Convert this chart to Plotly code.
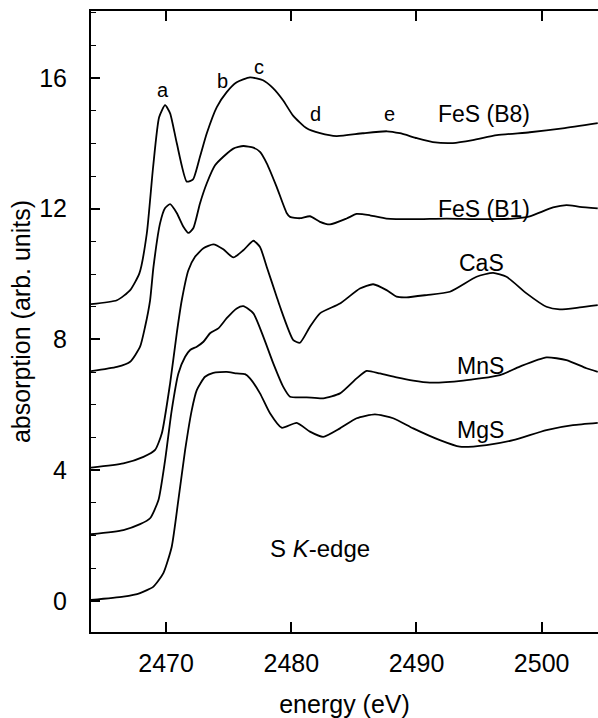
import plotly.graph_objects as go

# ---- data (energy in eV, absorption in arb. units, offset included) ----
fes_b8_e = [2464.0, 2466.07, 2467.13, 2467.87, 2468.46, 2468.96, 2469.44, 2469.92, 2470.32, 2470.85,
            2471.65, 2472.15, 2472.71, 2473.25, 2474.05, 2474.84, 2475.64, 2476.70, 2477.74, 2478.54,
            2479.34, 2480.14, 2481.23, 2482.30, 2483.62, 2485.72, 2487.64, 2488.67, 2490.03, 2491.31,
            2492.91, 2494.50, 2496.42, 2499.05, 2501.68, 2504.48]
fes_b8_a = [9.08, 9.20, 9.51, 10.03, 11.25, 13.27, 14.80, 15.17, 14.92, 14.01,
            12.83, 12.90, 13.60, 14.31, 15.11, 15.57, 15.87, 16.02, 15.93, 15.69,
            15.32, 14.85, 14.46, 14.31, 14.22, 14.31, 14.37, 14.31, 14.16, 14.04,
            14.01, 14.10, 14.25, 14.34, 14.46, 14.62]

fes_b1_e = [2464.0, 2466.07, 2467.13, 2467.92, 2468.32, 2468.72, 2468.99, 2469.52, 2469.92, 2470.32,
            2470.85, 2471.38, 2471.78, 2472.18, 2472.71, 2473.25, 2473.91, 2474.57, 2475.37, 2476.17,
            2476.97, 2477.50, 2478.04, 2478.83, 2479.63, 2479.90, 2480.69, 2481.49, 2482.29, 2483.09,
            2484.42, 2485.22, 2486.28, 2487.61, 2489.74, 2492.40, 2495.06, 2497.72, 2499.05, 2500.91,
            2501.98, 2503.04, 2504.48]
fes_b1_a = [7.03, 7.16, 7.32, 7.78, 8.39, 9.20, 10.22, 11.56, 12.02, 12.14,
            11.87, 11.45, 11.26, 11.41, 12.17, 12.78, 13.33, 13.59, 13.84, 13.92,
            13.87, 13.74, 13.39, 12.67, 11.87, 11.75, 11.71, 11.77, 11.60, 11.52,
            11.70, 11.84, 11.80, 11.70, 11.68, 11.70, 11.68, 11.70, 11.77, 12.04,
            12.11, 12.06, 12.01]

cas_e = [2464.0, 2466.59, 2468.19, 2469.12, 2469.66, 2470.32, 2470.85, 2471.25, 2471.78, 2472.31,
         2472.98, 2473.77, 2474.57, 2475.37, 2476.17, 2476.97, 2477.50, 2478.04, 2478.83, 2479.10,
         2480.16, 2480.69, 2481.49, 2482.29, 2483.89, 2485.48, 2486.54, 2487.61, 2488.41, 2489.21,
         2490.81, 2492.67, 2494.80, 2496.12, 2497.19, 2498.79, 2500.38, 2501.44, 2503.04, 2504.48]
cas_a = [4.08, 4.21, 4.41, 4.62, 5.13, 6.66, 8.19, 9.20, 10.12, 10.53,
         10.79, 10.91, 10.76, 10.51, 10.73, 11.02, 10.83, 10.22, 9.31, 9.00,
         7.98, 7.90, 8.39, 8.80, 9.10, 9.56, 9.69, 9.51, 9.31, 9.29,
         9.36, 9.46, 9.92, 10.04, 9.92, 9.41, 9.00, 8.92, 8.98, 9.05]

mns_e = [2464.0, 2466.59, 2467.92, 2468.72, 2469.39, 2469.92, 2470.45, 2470.98, 2471.52, 2471.92,
         2472.45, 2472.98, 2473.51, 2474.17, 2474.84, 2475.64, 2476.17, 2476.97, 2477.77, 2478.56,
         2479.36, 2479.90, 2481.23, 2482.55, 2483.89, 2485.22, 2486.02, 2487.08, 2488.41, 2489.74,
         2491.07, 2493.73, 2496.66, 2498.25, 2500.38, 2501.98, 2503.57, 2504.48]
mns_a = [2.04, 2.17, 2.35, 2.53, 3.09, 4.31, 5.84, 6.96, 7.47, 7.68,
         7.78, 7.93, 8.19, 8.34, 8.65, 8.95, 9.02, 8.80, 8.08, 7.27,
         6.55, 6.25, 6.23, 6.20, 6.35, 6.81, 7.04, 6.96, 6.84, 6.74,
         6.68, 6.74, 6.91, 7.17, 7.45, 7.37, 7.12, 7.01]

mgs_e = [2464.0, 2466.59, 2467.92, 2468.99, 2469.78, 2470.45, 2470.98, 2471.52, 2472.05, 2472.45,
         2473.11, 2473.77, 2474.84, 2475.64, 2476.30, 2476.70, 2477.50, 2478.30, 2479.23, 2480.43,
         2481.49, 2482.55, 2483.89, 2485.22, 2486.68, 2488.14, 2489.74, 2491.87, 2493.46, 2495.59,
         2497.72, 2500.38, 2502.50, 2504.48]
mgs_a = [0.03, 0.13, 0.24, 0.44, 0.85, 1.66, 3.09, 4.62, 5.84, 6.45,
         6.86, 6.98, 7.01, 6.96, 6.94, 6.81, 6.35, 5.74, 5.30, 5.45,
         5.18, 5.02, 5.28, 5.59, 5.71, 5.59, 5.28, 4.92, 4.72, 4.77,
         4.92, 5.23, 5.38, 5.45]

series = [(fes_b8_e, fes_b8_a), (fes_b1_e, fes_b1_a), (cas_e, cas_a), (mns_e, mns_a), (mgs_e, mgs_a)]

# curve labels and feature letters
label_texts = ["FeS (B8)", "FeS (B1)", "CaS", "MnS", "MgS"]
label_x = [2495.4, 2495.4, 2495.2, 2495.1, 2495.1]
label_y = [14.89, 11.99, 10.34, 7.19, 5.23]
peak_texts = ["a", "b", "c", "d", "e"]
peak_x = [2469.76, 2474.47, 2477.42, 2481.97, 2487.88]
peak_y = [15.63, 15.90, 16.33, 14.89, 14.89]

x_ticks = [2470, 2480, 2490, 2500]
y_ticks = [0, 4, 8, 12, 16]

FONT = "Liberation Sans, Arial, Helvetica, sans-serif"

fig = go.Figure()
for e, a in series:
    fig.add_trace(go.Scatter(x=e, y=a, mode="lines",
                             line=dict(color="black", width=1.8, shape="spline", smoothing=0.55),
                             showlegend=False, hoverinfo="skip"))

for t, x, y in zip(label_texts, label_x, label_y):
    fig.add_annotation(x=x, y=y, text=t, showarrow=False, xanchor="center", yanchor="middle",
                       font=dict(size=23, color="black", family=FONT))
for t, x, y in zip(peak_texts, peak_x, peak_y):
    fig.add_annotation(x=x, y=y, text=t, showarrow=False, xanchor="center", yanchor="middle",
                       font=dict(size=20, color="black", family=FONT))
fig.add_annotation(x=2482.3, y=1.62, text="S <i>K</i>-edge", showarrow=False,
                   xanchor="center", yanchor="middle",
                   font=dict(size=24, color="black", family=FONT))

fig.update_layout(
    width=598, height=718,
    margin=dict(l=91, r=0, t=11, b=86),
    paper_bgcolor="white", plot_bgcolor="white",
    font=dict(family=FONT, color="black"),
)
fig.update_xaxes(
    range=[2464.0, 2504.5], tickvals=x_ticks, ticks="inside", ticklen=10, tickwidth=1.5,
    tickcolor="black", showline=True, linecolor="black", linewidth=2, mirror="ticks",
    showgrid=False, zeroline=False, tickfont=dict(size=25), ticklabelstandoff=8,
    automargin=False,
    title=dict(text="energy (eV)", font=dict(size=25), standoff=20),
)
fig.update_yaxes(
    range=[-0.95, 18.05], tickvals=y_ticks, ticks="inside", ticklen=9, tickwidth=1.5,
    tickcolor="black", showline=True, linecolor="black", linewidth=2, mirror=False,
    showgrid=False, zeroline=False, tickfont=dict(size=25), ticklabelstandoff=17,
    automargin=False,
    minor=dict(dtick=1, tick0=0, ticks="inside", ticklen=5, tickcolor="black", tickwidth=1.2, showgrid=False),
    title=dict(text="absorption (arb. units)", font=dict(size=25), standoff=1),
)

fig.write_html("out.html", config={"displayModeBar": False},
               post_script="document.body.style.margin='0';document.body.style.overflow='hidden';")
